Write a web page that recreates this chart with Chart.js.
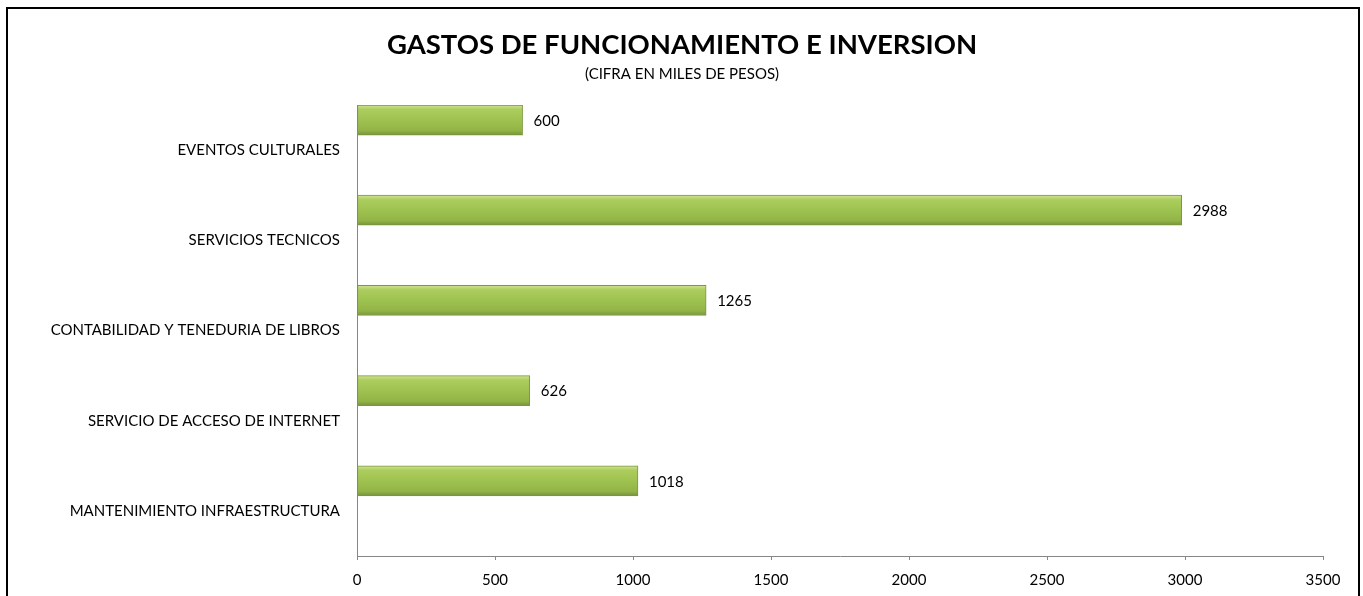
<!DOCTYPE html>
<html>
<head>
<meta charset="utf-8">
<script src="https://cdn.jsdelivr.net/npm/chart.js@4/dist/chart.umd.min.js"></script>
<style>
  html, body { margin: 0; padding: 0; background: #fff; }
  #wrap { width: 1363px; height: 596px; position: relative; }
</style>
</head>
<body>
<div id="wrap"><canvas id="c" width="1363" height="596"></canvas></div>
<script>
const categories = [
  "EVENTOS CULTURALES",
  "SERVICIOS TECNICOS",
  "CONTABILIDAD Y TENEDURIA DE LIBROS",
  "SERVICIO DE ACCESO DE INTERNET",
  "MANTENIMIENTO INFRAESTRUCTURA"
];
const gastos = [600, 2988, 1265, 626, 1018];
const xTicks = [0, 500, 1000, 1500, 2000, 2500, 3000, 3500];
const titleText = "GASTOS DE FUNCIONAMIENTO E INVERSION";
const subtitleText = "(CIFRA EN MILES DE PESOS)";

const FONT = "Lato, 'Open Sans', 'Liberation Sans', sans-serif";

function barFill(context) {
  const chart = context.chart;
  const sc = chart.scales && chart.scales.y;
  if (!sc || sc.height === undefined || context.dataIndex === undefined) return '#9bbb59';
  const slot = sc.height / categories.length;
  const center = sc.getPixelForValue(context.dataIndex);
  const top = center - slot / 2;
  const bottom = top + slot / 3;
  const g = chart.ctx.createLinearGradient(0, top, 0, bottom);
  g.addColorStop(0, '#cfe392');
  g.addColorStop(0.15, '#accd5e');
  g.addColorStop(0.5, '#9ec250');
  g.addColorStop(0.85, '#92b447');
  g.addColorStop(1, '#76923c');
  return g;
}

const framePlugin = {
  id: 'frame',
  beforeDraw(chart) {
    const ctx = chart.ctx;
    ctx.save();
    ctx.fillStyle = '#ffffff';
    ctx.fillRect(0, 0, chart.width, chart.height);
    ctx.strokeStyle = '#000000';
    ctx.lineWidth = 2;
    ctx.strokeRect(7, 8, 1352, 620);
    ctx.restore();
  },
  afterDraw(chart) {
    const ctx = chart.ctx;
    ctx.save();
    ctx.fillStyle = '#000';
    ctx.textAlign = 'center';
    ctx.textBaseline = 'middle';
    ctx.font = "bold 27.5px " + FONT;
    ctx.fillText(titleText, 682, 45);
    ctx.font = "15px " + FONT;
    ctx.fillText(subtitleText, 682, 74);
    ctx.restore();
  }
};

const valueLabels = {
  id: 'valueLabels',
  afterDatasetsDraw(chart) {
    const meta = chart.getDatasetMeta(0);
    const ctx = chart.ctx;
    ctx.save();
    ctx.fillStyle = '#000';
    ctx.font = "15px " + FONT;
    ctx.textAlign = 'left';
    ctx.textBaseline = 'middle';
    meta.data.forEach((bar, i) => {
      ctx.fillText(String(gastos[i]), bar.x + 11, bar.y + 1);
    });
    ctx.restore();
  }
};

new Chart(document.getElementById('c'), {
  type: 'bar',
  data: {
    labels: categories,
    datasets: [
      { data: gastos, backgroundColor: barFill, borderColor: '#7a9840', borderWidth: 1, borderSkipped: false },
      { data: categories.map(() => null) },
      { data: categories.map(() => null) }
    ]
  },
  options: {
    indexAxis: 'y',
    responsive: false,
    animation: false,
    devicePixelRatio: 1,
    layout: { padding: { left: 0, right: 40, top: 105, bottom: 0 } },
    datasets: { bar: { categoryPercentage: 1.0, barPercentage: 1.0 } },
    plugins: {
      legend: { display: false },
      title: { display: false },
      tooltip: { enabled: false }
    },
    scales: {
      x: {
        type: 'linear',
        min: 0,
        max: 3500,
        afterBuildTicks(scale) { scale.ticks = xTicks.map(v => ({ value: v })); },
        afterFit(scale) { scale.height = 40; },
        grid: { display: true, drawOnChartArea: false, drawTicks: true, tickLength: 4, color: '#868686' },
        border: { display: true, color: '#868686', width: 1 },
        ticks: {
          color: '#000', font: { family: FONT, size: 15 }, padding: 11, maxRotation: 0,
          callback: (v) => String(v)
        }
      },
      y: {
        type: 'category',
        offset: true,
        afterFit(scale) { scale.width = 357; },
        grid: { display: false },
        border: { display: true, color: '#868686', width: 1 },
        ticks: { color: '#000', font: { family: FONT, size: 15 }, padding: 9 }
      }
    }
  },
  plugins: [framePlugin, valueLabels]
});
</script>
</body>
</html>
